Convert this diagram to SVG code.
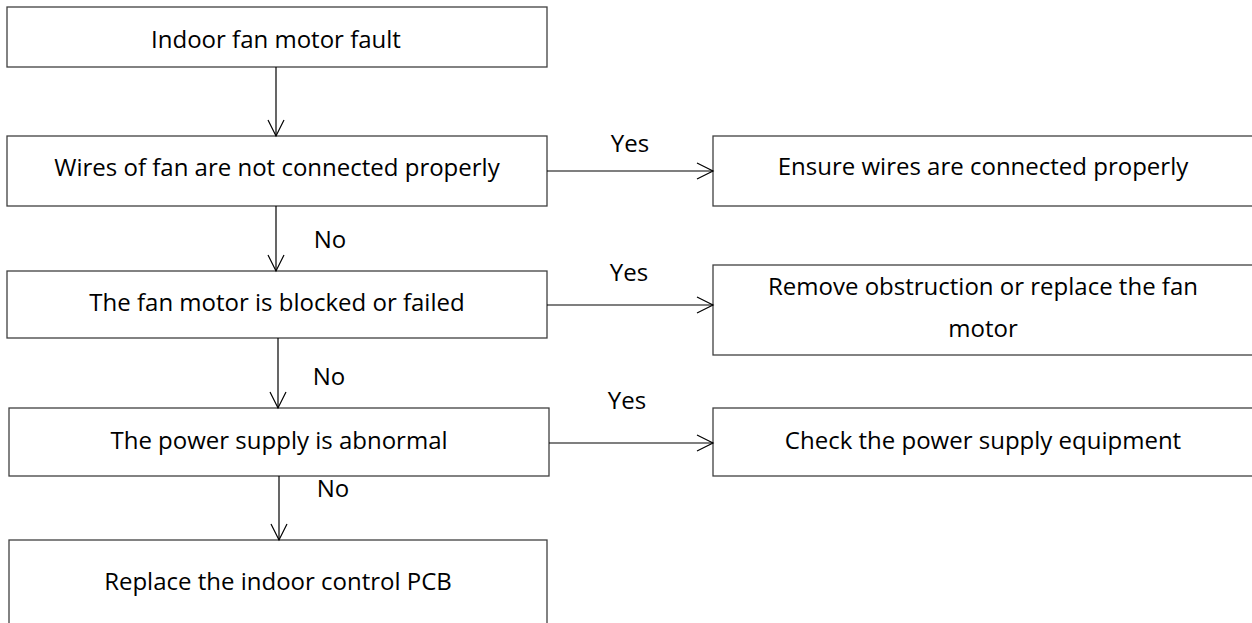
<svg xmlns="http://www.w3.org/2000/svg" width="1252" height="623" viewBox="0 0 1252 623">
<defs>
<style>
.n rect{fill:#fff;stroke:#404040;stroke-width:1.3}
text{font-family:"Open Sans","Noto Sans",sans-serif;font-size:24px;fill:#000;text-anchor:middle}
.c line{stroke:#000;stroke-width:1.2}
.c path{fill:none;stroke:#000;stroke-width:1.2}
</style>
</defs>
<rect width="1252" height="623" fill="#fff"/>
<g class="n" id="n1"><rect x="7" y="7" width="540" height="60"/><text x="276" y="48">Indoor fan motor fault</text></g>
<g class="n" id="n2"><rect x="7" y="136" width="540" height="70"/><text x="277" y="176">Wires of fan are not connected properly</text></g>
<g class="n" id="n3"><rect x="7" y="271" width="540" height="67"/><text x="277" y="311">The fan motor is blocked or failed</text></g>
<g class="n" id="n4"><rect x="9" y="408" width="540" height="68"/><text x="279" y="449">The power supply is abnormal</text></g>
<g class="n" id="n5"><rect x="9" y="540" width="538" height="90"/><text x="278" y="590">Replace the indoor control PCB</text></g>
<g class="n" id="r1"><rect x="713" y="136" width="545" height="70"/><text x="983" y="175">Ensure wires are connected properly</text></g>
<g class="n" id="r2"><rect x="713" y="265" width="545" height="90"/><text x="983" y="295">Remove obstruction or replace the fan</text><text x="983" y="337">motor</text></g>
<g class="n" id="r3"><rect x="713" y="408" width="545" height="68"/><text x="983" y="449">Check the power supply equipment</text></g>
<g class="c" id="connectors">
<line x1="276" y1="67" x2="276" y2="136"/><path d="M268,120 L276,136 L284,120"/>
<line x1="276" y1="206" x2="276" y2="271"/><path d="M268,255 L276,271 L284,255"/>
<line x1="278" y1="338" x2="278" y2="408"/><path d="M270,392 L278,408 L286,392"/>
<line x1="279" y1="476" x2="279" y2="540"/><path d="M271,524 L279,540 L287,524"/>
<line x1="547" y1="171" x2="713" y2="171"/><path d="M697,163 L713,171 L697,179"/>
<line x1="547" y1="305" x2="713" y2="305"/><path d="M697,297 L713,305 L697,313"/>
<line x1="549" y1="443" x2="713" y2="443"/><path d="M697,435 L713,443 L697,451"/>
<text x="630" y="152">Yes</text>
<text x="629" y="281">Yes</text>
<text x="627" y="409">Yes</text>
<text x="330" y="248">No</text>
<text x="329" y="385">No</text>
<text x="333" y="497">No</text>
</g>
</svg>
